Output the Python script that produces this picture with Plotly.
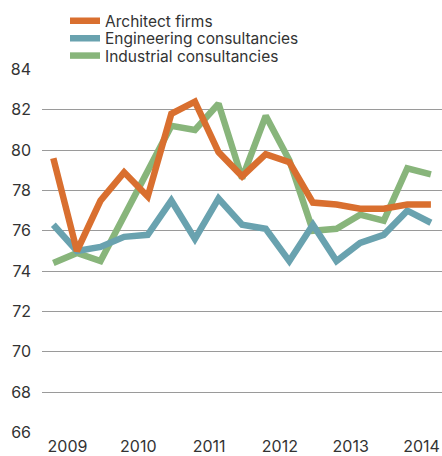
import plotly.graph_objects as go

periods = [2009 + i / 3 for i in range(17)]
architect = [79.6, 75.0, 77.5, 78.9, 77.7, 81.8, 82.4, 79.9, 78.7, 79.8, 79.4, 77.4, 77.3, 77.1, 77.1, 77.3, 77.3]
engineering = [76.3, 75.0, 75.2, 75.7, 75.8, 77.5, 75.6, 77.6, 76.3, 76.1, 74.5, 76.3, 74.5, 75.4, 75.8, 77.0, 76.4]
industrial = [74.4, 74.9, 74.5, 76.7, 78.9, 81.2, 81.0, 82.3, 78.6, 81.7, 79.5, 76.0, 76.1, 76.8, 76.5, 79.1, 78.8]
year_labels = ["2009", "2010", "2011", "2012", "2013", "2014"]
y_ticks = [66, 68, 70, 72, 74, 76, 78, 80, 82, 84]

FONT = "Inter, Liberation Sans, Arial, sans-serif"
TXT = "#333333"

# (name, values, colour, legend id, legend row centre in container fraction)
series = [
    ("Architect firms", architect, "#D96F2F", "legend", 1 - 21.2 / 456),
    ("Engineering consultancies", engineering, "#69A2AF", "legend2", 1 - 38.6 / 456),
    ("Industrial consultancies", industrial, "#88B57B", "legend3", 1 - 56.0 / 456),
]

fig = go.Figure()
# draw order: green, blue, orange on top
for name, vals, color, leg, _ in [series[2], series[1], series[0]]:
    fig.add_trace(go.Scatter(
        x=periods, y=vals, name=name, mode="lines",
        line=dict(color=color, width=6.5, shape="linear"),
        hoverinfo="skip", legend=leg,
    ))

legend_layout = {}
for name, vals, color, leg, ypos in series:
    legend_layout[leg] = dict(
        x=0.0575, xanchor="left", y=ypos, yanchor="middle", yref="container",
        font=dict(size=15.5, color=TXT, family=FONT),
        bgcolor="rgba(0,0,0,0)", borderwidth=0, itemwidth=30,
    )

fig.update_layout(
    width=442, height=456,
    margin=dict(l=42, r=0, t=69, b=23, pad=0, autoexpand=False),
    paper_bgcolor="white", plot_bgcolor="white",
    font=dict(family=FONT, color=TXT),
    showlegend=True,
    xaxis=dict(
        range=[2008.84, 2014.49],
        tickvals=[int(y) + 0.2 for y in year_labels],
        ticktext=year_labels,
        showgrid=False, zeroline=False, showline=False,
        ticks="", tickfont=dict(size=16, color=TXT),
        ticklabelstandoff=2,
    ),
    yaxis=dict(
        range=[65.98, 84.02],
        tickvals=y_ticks,
        ticktext=[str(v) for v in y_ticks],
        showgrid=True, gridcolor="#9a9a9a", gridwidth=1.3,
        zeroline=False, showline=False,
        ticks="", tickfont=dict(size=16, color=TXT),
        ticklabelstandoff=10,
    ),
    **legend_layout,
)

fig.write_html(
    "out.html",
    config={"displayModeBar": False},
    post_script="document.body.style.margin='0';document.body.style.overflow='hidden';",
)
